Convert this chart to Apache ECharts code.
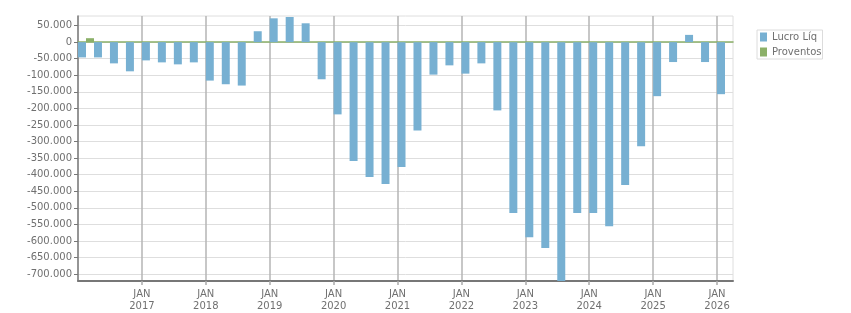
<!DOCTYPE html>
<html>
<head>
<meta charset="utf-8">
<script src="https://cdn.jsdelivr.net/npm/echarts@6/dist/echarts.min.js"></script>
<style>
  html, body { margin: 0; padding: 0; background: #fff; }
  #chart { width: 851px; height: 313px; }
</style>
</head>
<body>
<div id="chart"></div>
<script>
  // trimestres 1T16 .. 1T26
  const quarters = [
    "1T16", "2T16", "3T16", "4T16",
    "1T17", "2T17", "3T17", "4T17",
    "1T18", "2T18", "3T18", "4T18",
    "1T19", "2T19", "3T19", "4T19",
    "1T20", "2T20", "3T20", "4T20",
    "1T21", "2T21", "3T21", "4T21",
    "1T22", "2T22", "3T22", "4T22",
    "1T23", "2T23", "3T23", "4T23",
    "1T24", "2T24", "3T24", "4T24",
    "1T25", "2T25", "3T25", "4T25",
    "1T26",
  ];
  const lucroLiq = [
    -46000, -46000, -64000, -88000,
    -55000, -61000, -67000, -61000,
    -116000, -127000, -131000, 33000,
    72000, 76000, 57000, -112000,
    -218000, -359000, -407000, -428000,
    -377000, -267000, -98000, -70000,
    -95000, -64000, -206000, -516000,
    -589000, -621000, -721000, -516000,
    -516000, -556000, -431000, -314000,
    -163000, -60000, 22000, -60000,
    -157000,
  ];
  const proventos = [
    12000, 0, 0, 0,
    0, 0, 0, 0,
    0, 0, 0, 0,
    0, 0, 0, 0,
    0, 0, 0, 0,
    0, 0, 0, 0,
    0, 0, 0, 0,
    0, 0, 0, 0,
    0, 0, 0, 0,
    0, 0, 0, 0,
    0,
  ];
  const yTicks = [
    50000, 0, -50000, -100000, -150000, -200000, -250000, -300000,
    -350000, -400000, -450000, -500000, -550000, -600000, -650000, -700000,
  ];
  const yearTicks = [2017, 2018, 2019, 2020, 2021, 2022, 2023, 2024, 2025, 2026];

  const textColor = "#707070";
  const font = "DejaVu Sans";

  // 50000 -> "50.000"
  const fmt = v => {
    const s = String(Math.abs(v)).replace(/\B(?=(\d{3})+(?!\d))/g, ".");
    return (v < 0 ? "-" : "") + s;
  };

  const chart = echarts.init(document.getElementById("chart"));
  const option = {
    animation: false,
    legend: {
      data: ["Lucro Líq", "Proventos"],
      orient: "vertical",
      left: 757,
      top: 30,
      padding: [2, 1, 2, 3],
      itemWidth: 7,
      itemHeight: 9,
      itemGap: 5,
      icon: "rect",
      borderColor: "#dcdcdc",
      borderWidth: 1,
      textStyle: { color: textColor, fontSize: 10, lineHeight: 10, fontFamily: font },
    },
    grid: {
      left: 78,
      right: 118,
      top: 16,
      bottom: 32,
      show: true,
      borderColor: "#dedede",
      borderWidth: 1,
    },
    xAxis: [
      {
        // eixo das barras
        type: "category",
        data: quarters,
        position: "bottom",
        axisLine: { onZero: false, lineStyle: { color: "#777", width: 2 } },
        axisTick: { show: false },
        axisLabel: { show: false },
        splitLine: { show: false },
      },
      {
        // linhas e rótulos de janeiro
        type: "value",
        position: "bottom",
        min: 2016,
        max: 2016 + quarters.length / 4,
        axisLine: { show: false, onZero: false },
        axisTick: { show: true, customValues: yearTicks, length: 4, lineStyle: { color: "#aaa", width: 1.5 } },
        axisLabel: {
          customValues: yearTicks,
          formatter: v => "JAN\n" + v,
          color: textColor,
          fontSize: 10,
          lineHeight: 12,
          fontFamily: font,
          margin: 7,
        },
        splitLine: { show: true, lineStyle: { color: "#b4b4b4", width: 1.5 } },
      },
      {
        // linha verde no zero
        type: "value",
        position: "bottom",
        min: 0,
        max: 1,
        axisLine: { show: true, onZero: true, lineStyle: { color: "#8bb068", width: 1.5 } },
        axisTick: { show: false },
        axisLabel: { show: false },
        splitLine: { show: false },
      },
    ],
    yAxis: {
      type: "value",
      min: -721000,
      max: 79000,
      axisLine: { show: true, lineStyle: { color: "#777", width: 1.5 } },
      axisTick: { show: true, customValues: yTicks, length: 4, lineStyle: { color: "#777" } },
      axisLabel: {
        customValues: yTicks,
        formatter: fmt,
        color: textColor,
        fontSize: 10,
        fontFamily: font,
        margin: 6,
      },
      splitLine: { show: true, lineStyle: { color: "#dedede", width: 1 } },
    },
    series: [
      {
        name: "Lucro Líq",
        type: "bar",
        xAxisIndex: 0,
        data: lucroLiq,
        itemStyle: { color: "#77b0d2" },
        barGap: "0%",
        barCategoryGap: "0%",
      },
      {
        name: "Proventos",
        type: "bar",
        xAxisIndex: 0,
        data: proventos,
        itemStyle: { color: "#8bb068" },
      },
    ],
  };
  chart.setOption(option);
</script>
</body>
</html>
